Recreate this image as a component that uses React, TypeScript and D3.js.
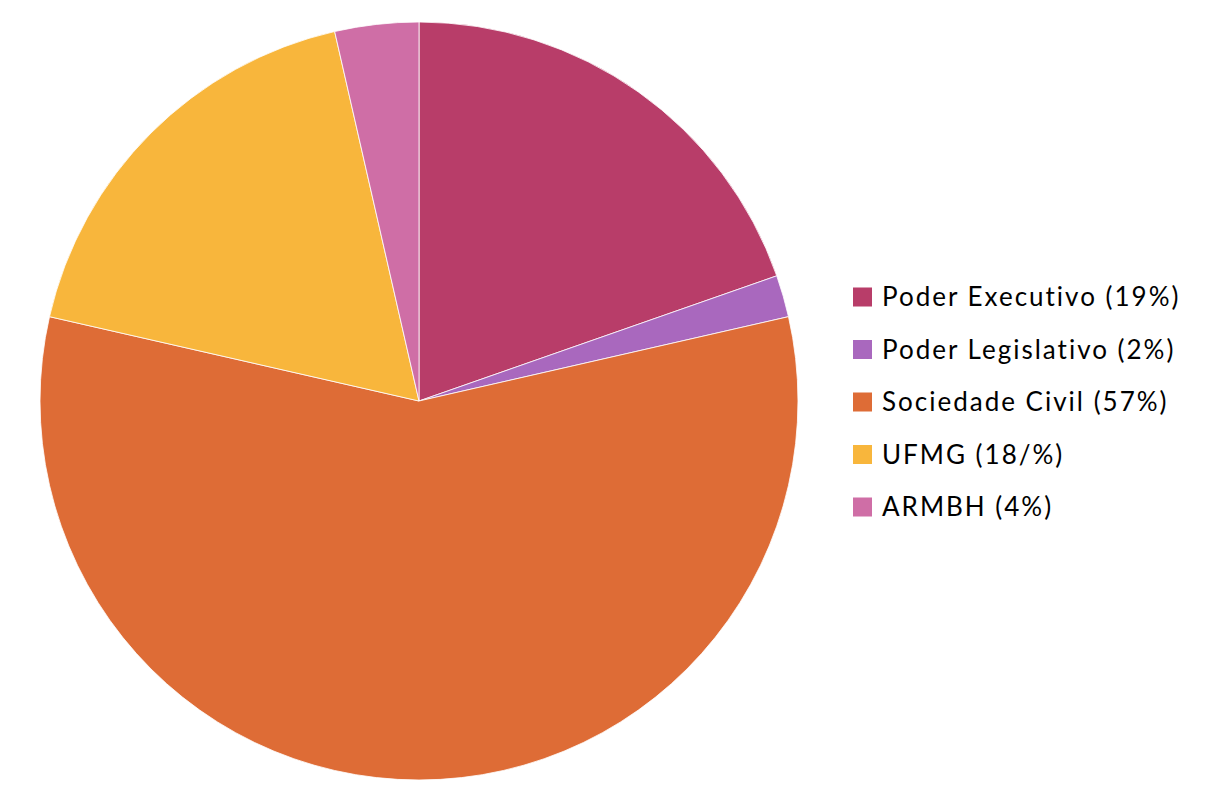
import React from "react";
import * as d3 from "d3";

const categories = ["Poder Executivo (19%)", "Poder Legislativo (2%)", "Sociedade Civil (57%)", "UFMG (18/%)", "ARMBH (4%)"];
const values = [22, 2, 64, 20, 4];
const colors = ["#B83D69", "#A968BE", "#DE6C36", "#F8B63C", "#CF6EA6"];

export default function App() {
  const W = 1205, H = 803;
  const cx = 419, cy = 401, r = 379;
  const data = categories.map((c, i) => ({ c, v: values[i], col: colors[i] }));
  const pie = d3.pie<any>().value((d: any) => d.v).sort(null);
  const arc = d3.arc<any>().innerRadius(0).outerRadius(r);
  const arcs = pie(data);
  const legendY = d3.scaleLinear().domain([0, categories.length - 1]).range([297, 507]);
  return (
    <svg width={W} height={H} style={{ position: "absolute", left: 0, top: 0, background: "#fff" }}>
      <g transform={`translate(${cx},${cy})`}>
        {arcs.map((a, i) => (
          <path key={i} d={arc(a) as string} fill={a.data.col} stroke="#fff" strokeWidth={0.8} />
        ))}
      </g>
      <g>
        {data.map((d, i) => (
          <g key={i} transform={`translate(853,${legendY(i)})`}>
            <rect x={0} y={-9.5} width={19} height={19} fill={d.col} />
            <text x={29} y={0} dy="0.35em" fontFamily="Lato, 'Open Sans', sans-serif" fontSize={26} letterSpacing={2} fill="#000">{d.c}</text>
          </g>
        ))}
      </g>
    </svg>
  );
}
